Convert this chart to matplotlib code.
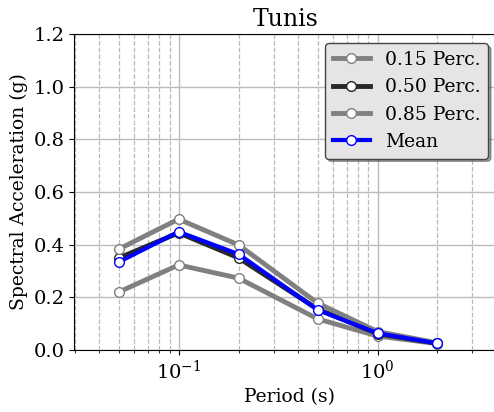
import numpy as np
import matplotlib
matplotlib.use("Agg")
import matplotlib.pyplot as plt

plt.rcParams['font.family'] = 'DejaVu Serif'

periods = [0.05, 0.1, 0.2, 0.5, 1.0, 2.0]
p15 = [0.220, 0.323, 0.273, 0.118, 0.053, 0.024]
p50 = [0.349, 0.445, 0.350, 0.155, 0.062, 0.025]
p85 = [0.383, 0.497, 0.399, 0.178, 0.070, 0.027]
mean = [0.334, 0.449, 0.364, 0.152, 0.064, 0.025]

fig = plt.figure(figsize=(4.94, 4.12), dpi=100)
ax = fig.add_axes([74/494, 62/412, (505-74)/494, (350-34)/412])

ax.plot(periods, p15, '-o', color='gray', lw=3.5, ms=7, mfc='white', mec='gray', label='0.15 Perc.')
ax.plot(periods, p50, '-o', color='#282828', lw=3.5, ms=7, mfc='white', mec='#282828', label='0.50 Perc.')
ax.plot(periods, p85, '-o', color='gray', lw=3.5, ms=7, mfc='white', mec='gray', label='0.85 Perc.')
ax.plot(periods, mean, '-o', color='blue', lw=3, ms=7, mfc='white', mec='blue', label='Mean')

ax.set_xscale('log')
ax.set_xlim(0.0298, 4.37)
ax.set_ylim(0, 1.2)
ax.set_yticks(np.arange(0, 1.21, 0.2))
ax.grid(True, which='major', color='#bbbbbb', lw=1)
ax.grid(True, which='minor', axis='x', color='#bbbbbb', ls='--', lw=0.9)
ax.tick_params(labelsize=14)
ax.set_xlabel('Period (s)', fontsize=13.5)
ax.set_ylabel('Spectral Acceleration (g)', fontsize=13.5)
ax.set_title('Tunis', fontsize=17, x=(285.5-74)/(505-74))
leg = ax.legend(loc='upper right', fontsize=13.5, fancybox=True, shadow=True,
                facecolor='#e5e5e5', edgecolor='#444444', framealpha=1,
                bbox_to_anchor=((497.5-74)/(505-74), 1.0))

fig.savefig('out.png', dpi=100)
